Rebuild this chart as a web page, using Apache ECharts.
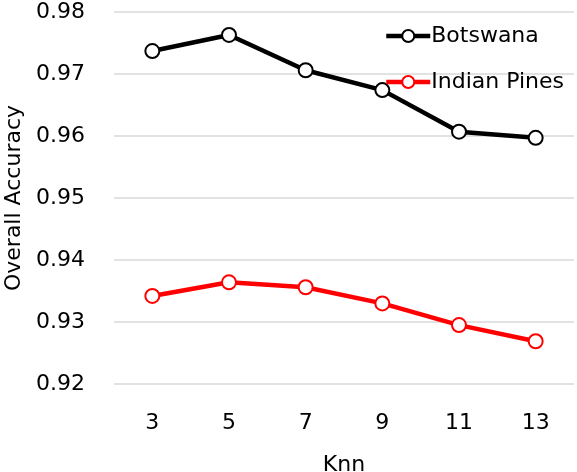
<!DOCTYPE html>
<html>
<head>
<meta charset="utf-8">
<script src="https://cdn.jsdelivr.net/npm/echarts@6/dist/echarts.min.js"></script>
<style>
  html, body { margin: 0; padding: 0; background: #fff; }
  #main-chart { width: 577px; height: 472px; }
</style>
</head>
<body>
<div id="main-chart"></div>
<script>
// 横轴 Knn
var knnLabels = ['3', '5', '7', '9', '11', '13'];
// 各数据集精度
var botswana = [0.9737, 0.9763, 0.9706, 0.9674, 0.9607, 0.9597];
var indianPines = [0.9342, 0.9364, 0.9356, 0.9330, 0.9295, 0.9269];

var fontName = 'DejaVu Sans';
var fontSize = 22;

var myChart = echarts.init(document.getElementById('main-chart'));

function makeSeries(name, data, color) {
	return {
		name: name,
		type: 'line',
		data: data,
		symbol: 'emptyCircle',
		symbolSize: 14,
		lineStyle: { color: color, width: 4.5 },
		itemStyle: { color: color, borderColor: color, borderWidth: 2 },
		emphasis: { disabled: true }
	};
}

var option = {
	animation: false,
	backgroundColor: '#fff',
	textStyle: { fontFamily: fontName },
	legend: {
		orient: 'vertical',
		left: 379,
		top: 20,
		itemWidth: 44,
		itemHeight: 15,
		itemGap: 24,
		lineStyle: { width: 4.5 },
		textStyle: { fontFamily: fontName, fontSize: fontSize, color: '#000', padding: [0, 0, 0, -4] },
		data: ['Botswana', 'Indian Pines']
	},
	grid: {
		left: 114,
		right: 3,
		top: 12,
		bottom: 88,
		outerBoundsMode: 'none'
	},
	xAxis: {
		type: 'category',
		data: knnLabels,
		boundaryGap: true,
		name: 'Knn',
		nameLocation: 'middle',
		nameGap: 70,
		nameTextStyle: { fontFamily: fontName, fontSize: fontSize, color: '#000' },
		axisLine: { show: false },
		axisTick: { show: false },
		axisLabel: { fontFamily: fontName, fontSize: fontSize, color: '#000', margin: 28 }
	},
	yAxis: {
		type: 'value',
		min: 0.92,
		max: 0.98,
		interval: 0.01,
		name: 'Overall Accuracy',
		nameLocation: 'middle',
		nameGap: 87,
		nameTextStyle: { fontFamily: fontName, fontSize: fontSize, color: '#000' },
		axisLine: { show: false },
		axisTick: { show: false },
		axisLabel: {
			fontFamily: fontName, fontSize: fontSize, color: '#000', margin: 29,
			formatter: function (v) { return v.toFixed(2); }
		},
		splitLine: { lineStyle: { color: '#d9d9d9', width: 1.5 } }
	},
	series: [
		makeSeries('Botswana', botswana, '#000000'),
		makeSeries('Indian Pines', indianPines, '#ff0000')
	]
};

myChart.setOption(option);
</script>
</body>
</html>
